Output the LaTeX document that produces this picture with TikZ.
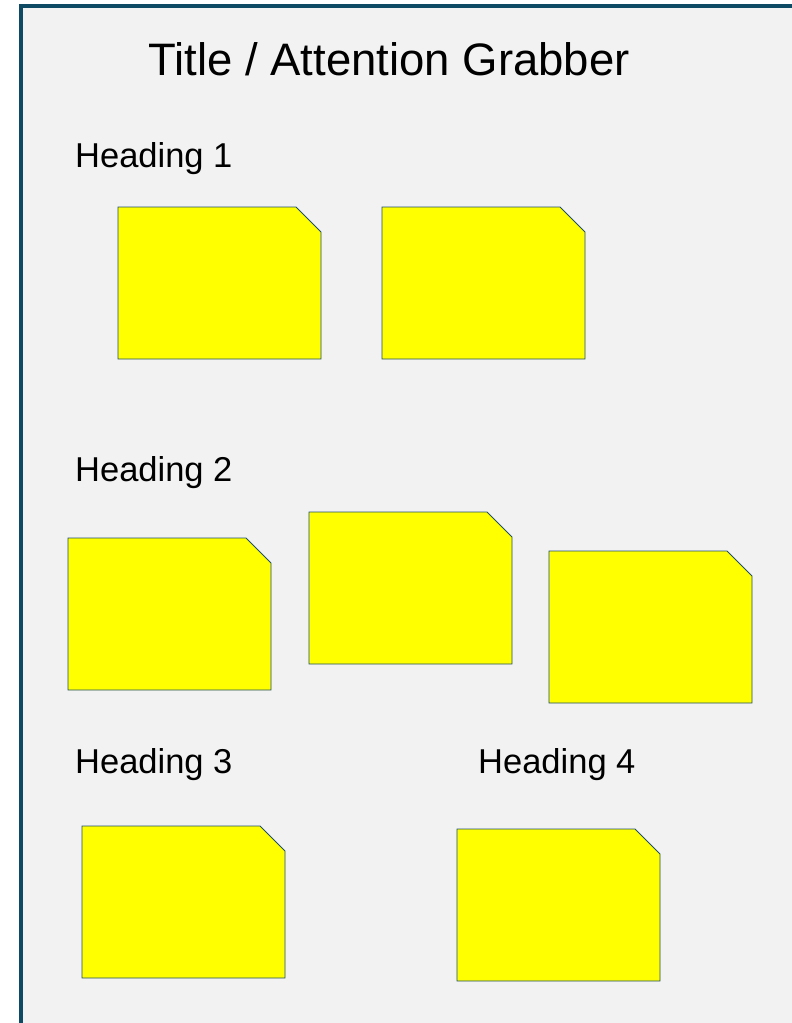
\documentclass[tikz,border=0pt]{standalone}
\usepackage{fontspec}
\setmainfont{Liberation Sans}
\usetikzlibrary{calc}
\definecolor{framec}{HTML}{0E4A63}
\definecolor{notebd}{HTML}{1F4E6E}
\definecolor{bgc}{HTML}{F2F2F2}
\definecolor{notey}{HTML}{FFFF00}
\tikzset{
  stickybox/.style={rectangle, minimum width=203pt, minimum height=152pt,
    inner sep=0pt, outer sep=0pt, anchor=north west},
  stickyline/.style={draw=notebd, fill=notey, line width=0.9pt, line join=miter},
  heading/.style={anchor=base west, inner sep=0pt, font=\fontsize{34.5}{41}\selectfont},
  titletext/.style={anchor=base west, inner sep=0pt, font=\fontsize{45.5}{54}\selectfont}
}
\begin{document}
\begin{tikzpicture}[x=1pt,y=-1pt]
\useasboundingbox (0,0) rectangle (792,1023);
\fill[white] (0,0) rectangle (792,1023);
\fill[bgc] (21,5.5) rectangle (800,1030);
\draw[framec, line width=4pt] (21,1030) -- (21,5.5) -- (800,5.5);
\node[titletext] (title) at (148,75) {Title / Attention Grabber};
\node[heading] (h1) at (75,167) {Heading 1};
\node[heading] (h2) at (75,481) {Heading 2};
\node[heading] (h3) at (75,773) {Heading 3};
\node[heading] (h4) at (478,773) {Heading 4};
\node[stickybox] (n1) at (118,207) {};
\node[stickybox] (n2) at (382,207) {};
\node[stickybox] (n3) at (68,538) {};
\node[stickybox] (n4) at (309,512) {};
\node[stickybox] (n5) at (549,551) {};
\node[stickybox] (n6) at (82,826) {};
\node[stickybox] (n7) at (457,829) {};
\foreach \n in {n1,n2,n3,n4,n5,n6,n7}{
  \path[stickyline] (\n.north west) -- ($(\n.north east)+(-25,0)$)
    -- ($(\n.north east)+(0,25)$) -- (\n.south east) -- (\n.south west) -- cycle;
}
\end{tikzpicture}
\end{document}
